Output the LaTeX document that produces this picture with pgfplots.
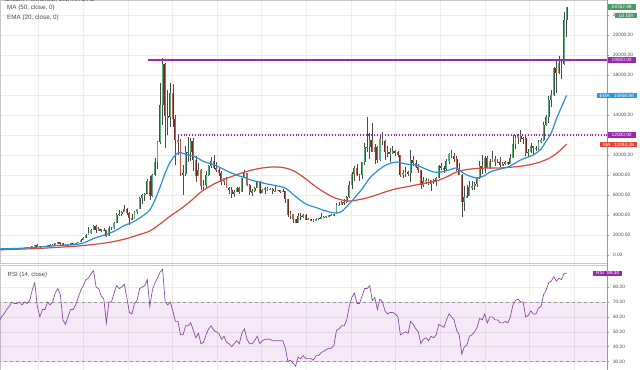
\documentclass[border=0pt]{standalone}
\usepackage{pgfplots}
\pgfplotsset{compat=1.18}
\usepackage{pgfplotstable}
\usepackage{fontspec}
\setmainfont{Liberation Sans}
\definecolor{upfill}{HTML}{5BAE7A}
\definecolor{upline}{HTML}{2F5E40}
\definecolor{dnfill}{HTML}{D0584A}
\definecolor{dnline}{HTML}{6E2A22}
\definecolor{wick}{HTML}{4A4A4A}
\definecolor{emac}{HTML}{2A8FD4}
\definecolor{mac}{HTML}{D9483B}
\definecolor{purp}{HTML}{9C27B0}
\definecolor{rsic}{HTML}{8E4AA6}
\definecolor{gridc}{HTML}{EDEDED}
\definecolor{axc}{HTML}{C8C8C8}
\definecolor{tickc}{HTML}{9A9A9A}
\definecolor{labc}{HTML}{4A4A4A}
\definecolor{boxg}{HTML}{4E9A6A}
\definecolor{boxb}{HTML}{2196F3}
\definecolor{boxr}{HTML}{E5453A}
\newcommand\lbl{\fontsize{4.8}{5.5}\selectfont}
\newcommand\leg{\fontsize{6.3}{7.5}\selectfont}

\pgfplotstableread{
x o h l c
-15 608 612 590 600
-14 600 612 595 610
-13 610 620 605 617
-12 617 645 615 640
-11 640 660 625 655
-10 655 720 650 700
-9 700 740 680 705
-8 705 720 690 705
-7 705 750 690 730
-6 730 745 720 735
-5 735 775 730 765
-4 765 780 755 775
-3 775 800 770 790
-2 790 935 790 920
-1 920 1000 880 1000
0 1000 1150 810 900
1 900 910 750 820
2 820 930 810 920
3 920 930 880 915
4 915 1030 910 1020
5 1020 1060 940 1000
6 1000 1060 990 1050
7 1050 1200 1050 1180
8 1180 1290 1150 1270
9 1270 1330 1000 1230
10 1230 1250 950 970
11 970 1060 890 960
12 960 1100 920 1080
13 1080 1200 1070 1180
14 1180 1210 1150 1170
15 1170 1250 1160 1240
16 1240 1350 1240 1350
17 1350 1640 1350 1550
18 1550 1760 1550 1720
19 1720 2100 1700 2050
20 2050 2760 2000 2200
21 2200 2560 2100 2550
22 2550 2980 2500 2950
23 2950 2990 2200 2500
24 2500 2760 2400 2600
25 2600 2600 2300 2500
26 2500 2670 2480 2520
27 2520 2550 1830 1950
28 1950 2920 1950 2750
29 2750 2790 2500 2730
30 2730 3300 2650 3230
31 3230 4200 3200 4050
32 4050 4480 3950 4100
33 4100 4400 3950 4350
34 4350 4980 4300 4600
35 4600 4700 3980 4200
36 4200 4350 2980 3700
37 3700 4100 3500 3600
38 3600 4380 3580 4350
39 4350 4620 4110 4600
40 4600 5850 4560 5700
41 5700 6150 5100 6000
42 6000 6200 5400 6150
43 6150 7600 6100 7400
44 7400 7900 5500 5950
45 5950 8100 5850 8000
46 8000 9700 7900 9300
47 9300 11400 8600 11300
48 11300 17200 11100 15000
49 15000 19700 13000 19100
50 19100 19200 10700 13900
51 13900 16500 12000 13800
52 13800 17200 12800 16200
53 16200 17100 12800 13600
54 13600 14000 9000 11500
55 11500 12100 10000 11400
56 11400 11600 7900 8200
57 8200 9000 6000 8100
58 8100 10900 7900 10300
59 10300 11800 9300 10350
60 10350 11700 9400 11400
61 11400 11700 8400 9500
62 9500 9900 7300 7900
63 7900 9200 7900 8500
64 8500 8600 6500 6900
65 6900 7500 6450 7000
66 7000 8400 6600 8000
67 8000 9000 7900 8900
68 8900 9800 8700 9400
69 9400 9990 8600 8700
70 8700 9350 8350 8500
71 8500 8850 7950 8200
72 8200 8400 7050 7350
73 7350 7750 7050 7700
74 7700 7780 6700 6750
75 6750 6800 6120 6500
76 6500 6850 5750 6150
77 6150 6550 5800 6350
78 6350 6850 6300 6750
79 6750 6800 6100 6350
80 6350 7700 6350 7700
81 7700 8500 7700 8200
82 8200 8250 6900 7000
83 7000 7150 6050 6300
84 6300 6600 5900 6400
85 6400 6800 6300 6700
86 6700 7400 6700 7300
87 7300 7400 6100 6200
88 6200 6600 6200 6500
89 6500 6800 6100 6700
90 6700 6800 6400 6600
91 6600 6700 6500 6620
92 6620 6700 6150 6400
93 6400 7000 6350 6450
94 6450 6550 6400 6480
95 6480 6500 6250 6400
96 6400 6600 6350 6420
97 6420 6450 5200 5600
98 5600 5600 3800 4000
99 4000 4400 3600 4100
100 4100 4100 3250 3600
101 3600 3600 3200 3200
102 3200 4200 3200 3950
103 3950 4250 3550 3850
104 3850 4100 3700 4000
105 4000 4100 3500 3550
106 3550 3750 3500 3560
107 3560 3650 3450 3540
108 3540 3560 3350 3450
109 3450 3700 3400 3650
110 3650 3700 3550 3660
111 3660 4200 3650 3800
112 3800 3900 3700 3850
113 3850 3950 3700 3900
114 3900 4000 3800 3990
115 3990 4100 3950 4000
116 4000 4150 3950 4100
117 4100 5200 4100 5000
118 5000 5350 4950 5050
119 5050 5400 5000 5300
120 5300 5650 5050 5280
121 5280 5900 5250 5800
122 5800 7400 5700 7000
123 7000 8300 6600 8150
124 8150 8950 7450 8750
125 8750 9100 7900 8000
126 8000 8100 7450 7980
127 7980 9300 7600 9300
128 9300 11200 9000 10850
129 10850 13800 10300 10800
130 10800 12200 9600 11500
131 11500 13200 10300 10300
132 10300 11100 9100 10800
133 10800 10900 9200 9500
134 9500 11900 9400 11600
135 11600 12300 11000 11400
136 11400 11500 9500 10300
137 10300 10900 9800 10100
138 10100 10700 9350 10300
139 10300 10900 10100 10400
140 10400 10500 9900 10300
141 10300 10400 9800 10000
142 10000 10000 7800 8000
143 8000 8500 7750 8200
144 8200 8800 7800 8300
145 8300 8400 7900 8200
146 8200 10500 7300 9550
147 9550 9950 8900 9200
148 9200 9500 8700 8800
149 8800 9100 8200 8500
150 8500 8500 6600 7050
151 7050 7800 6850 7400
152 7400 7700 7150 7500
153 7500 7600 7050 7100
154 7100 7550 6450 7500
155 7500 7650 7150 7400
156 7400 7800 6900 7750
157 7750 9000 7750 8900
158 8900 9200 8500 8700
159 8700 8900 8250 8600
160 8600 9600 8550 9400
161 9400 10200 9100 10150
162 10150 10500 9700 9900
163 9900 10250 9300 9650
164 9650 9950 8450 8500
165 8500 9200 8000 8000
166 8000 8100 3850 5350
167 5350 6900 4450 5800
168 5800 7000 5700 5900
169 5900 7450 5900 6800
170 6800 7450 6500 6900
171 6900 7300 6500 7100
172 7100 7800 6800 7700
173 7700 9450 7650 8900
174 8900 10000 8100 8700
175 8700 9950 8200 9700
176 9700 9900 8700 8700
177 8700 9600 8650 9450
178 9450 10400 9300 9650
179 9650 9950 8950 9350
180 9350 9600 9200 9300
181 9300 9800 8850 9000
182 9000 9300 8900 9100
183 9100 9450 9050 9300
184 9300 9350 9050 9150
185 9150 10100 9100 9700
186 9700 12000 9700 11100
187 11100 12000 10600 11700
188 11700 12100 11100 11900
189 11900 12500 11300 11650
190 11650 11800 11100 11700
191 11700 12100 9900 10250
192 10250 10600 9850 10300
193 10300 11200 10200 10900
194 10900 10900 10150 10700
195 10700 10950 10400 10650
196 10650 11500 10550 11300
197 11300 11700 11200 11500
198 11500 13300 11400 13000
199 13000 14000 12900 13800
200 13800 15900 13200 15500
201 15500 16500 14800 16050
202 16050 18800 15900 18700
203 18700 19400 16200 18200
204 18200 19900 18100 19200
205 19200 19400 17600 19150
206 19150 24300 19000 23500
207 23500 24800 21800 24767
}\candles

\pgfplotstableread{
x v
-15 520
-10 560
-5 600
0 650
5 720
10 800
15 880
20 1000
25 1150
30 1350
35 1650
40 2050
44 2400
48 3100
52 3900
56 4600
60 5400
64 6300
68 6950
72 7450
76 7850
80 8200
84 8500
88 8700
92 8800
96 8750
100 8450
104 7800
108 7000
112 6300
116 5750
120 5450
122 5400
124 5450
128 5650
132 5950
136 6300
140 6600
144 6800
148 7000
152 7200
156 7400
160 7800
164 8300
168 8550
172 8650
176 8700
180 8700
184 8750
188 8850
192 9000
196 9250
200 9650
203 10150
205 10600
207 11093
}\madata

\pgfplotstableread{
x v
-15 610
-10 640
-5 690
0 790
4 860
8 950
12 990
16 1080
19 1300
22 1650
25 1900
28 2150
31 2500
34 2950
37 3250
40 3700
42 4050
44 4500
46 5500
48 6800
50 8200
52 9300
54 10000
55 10200
56 10250
57 10150
59 10000
61 9900
63 9650
65 9350
67 9200
69 9050
71 8800
73 8550
75 8300
77 8100
79 7900
81 7750
83 7550
85 7400
87 7300
89 7150
91 7050
93 6950
95 6850
97 6700
99 6300
101 5850
103 5450
105 5100
107 4900
109 4750
111 4550
113 4400
115 4250
117 4200
119 4350
121 4850
123 5400
125 6000
127 6600
130 7700
133 8400
136 8950
139 9250
141 9300
144 9100
148 9000
151 8700
155 8300
158 8300
161 8500
164 8700
166 8300
168 8000
172 7700
175 7950
177 8300
181 8600
184 8800
187 9200
189 9500
192 9800
194 10000
197 10600
199 11400
201 12200
203 13600
205 14800
207 15959
}\emadata

\pgfplotstableread{
x r
-15 57
-14 60
-13 62
-12 65
-11 67
-10 70
-9 69
-8 69
-7 70
-6 68
-5 70
-4 69
-3 71
-2 78
-1 83
0 67
1 60
2 65
3 65
4 70
5 68
6 70
7 76
8 79
9 75
10 58
11 55
12 60
13 65
14 65
15 68
16 73
17 78
18 81
19 85
20 86
21 89
22 91
23 80
24 79
25 74
26 72
27 56
28 70
29 70
30 76
31 81
32 79
33 80
34 82
35 73
36 63
37 62
38 69
39 71
40 79
41 80
42 81
43 85
44 67
45 78
46 83
47 86
48 90
49 92
50 70
51 68
52 70
53 64
54 57
55 57
56 48
57 48
58 54
59 54
60 56
61 51
62 46
63 49
64 42
65 43
66 48
67 52
68 54
69 51
70 50
71 49
72 45
73 47
74 43
75 42
76 40
77 42
78 44
79 42
80 49
81 52
82 45
83 42
84 42
85 44
86 47
87 42
88 44
89 45
90 45
91 45
92 44
93 44
94 44
95 44
96 44
97 39
98 30
99 31
100 29
101 27
102 33
103 32
104 34
105 32
106 32
107 32
108 31
109 34
110 34
111 36
112 37
113 38
114 39
115 39
116 41
117 51
118 52
119 54
120 54
121 58
122 67
123 73
124 76
125 69
126 69
127 74
128 79
129 79
130 81
131 71
132 73
133 65
134 72
135 70
136 64
137 62
138 63
139 63
140 62
141 60
142 48
143 49
144 50
145 49
146 57
147 55
148 52
149 50
150 42
151 45
152 46
153 44
154 47
155 46
156 48
157 55
158 54
159 53
160 58
161 62
162 60
163 58
164 51
165 48
166 35
167 40
168 41
169 47
170 48
171 50
172 53
173 59
174 58
175 62
176 56
177 60
178 60
179 58
180 58
181 56
182 56
183 57
184 56
185 60
186 68
187 71
188 72
189 70
190 70
191 60
192 61
193 64
194 62
195 62
196 66
197 67
198 75
199 78
200 83
201 84
202 87
203 84
204 86
205 85
206 89
207 89.34
}\rsidata

\pgfplotsset{
  chartaxis/.style={
    scale only axis, width=607bp, anchor=north west,
    xmin=-14.6, xmax=222.8,
    xtick={0.2,17.8,35.4,52.6,70.2,87.4,105,122.6,139.9,157.5,175.1,192.3,209.9},
    xticklabels={}, xtick style={draw=none},
    ytick pos=right, yticklabel pos=right, ytick align=outside,
    major tick length=2bp, tick style={draw=tickc, line width=0.4bp},
    grid=major, major grid style={draw=gridc, line width=0.5bp},
    axis line style={draw=axc, line width=0.5bp},
    scaled y ticks=false,
    yticklabel style={font=\lbl, text=labc, anchor=west, xshift=0.5bp,
      /pgf/number format/.cd, fixed, fixed zerofill, precision=2, 1000 sep={}, assume math mode=true},
  },
  candle/.style 2 args={draw=none, mark=none, forget plot,
    error bars/y dir=both, error bars/y explicit, error bars/error mark=none,
    error bars/error bar style={draw=#1, line width=#2, solid}},
}

\begin{document}
\begin{tikzpicture}
\useasboundingbox (0,0) rectangle (640bp,-370bp);
% ---------- price panel ----------
\begin{axis}[chartaxis, at={(0,0)}, height=263bp,
  ymin=-800, ymax=25500, ytick={0,2000,...,24000}]
  % wicks
  \addplot [candle={wick}{0.5bp}]
    table [x=x, y expr={(\thisrow{h}+\thisrow{l})/2}, y error expr={(\thisrow{h}-\thisrow{l})/2}] {\candles};
  % up bodies
  \addplot [candle={upline}{1.9bp}, restrict expr to domain={\thisrow{c}-\thisrow{o}}{0:100000}]
    table [x=x, y expr={(\thisrow{o}+\thisrow{c})/2}, y error expr={abs(\thisrow{c}-\thisrow{o})/2}] {\candles};
  \addplot [candle={upfill}{1.1bp}, restrict expr to domain={\thisrow{c}-\thisrow{o}}{0:100000}]
    table [x=x, y expr={(\thisrow{o}+\thisrow{c})/2}, y error expr={abs(\thisrow{c}-\thisrow{o})/2}] {\candles};
  % down bodies
  \addplot [candle={dnline}{1.9bp}, restrict expr to domain={\thisrow{o}-\thisrow{c}}{0.001:100000}]
    table [x=x, y expr={(\thisrow{o}+\thisrow{c})/2}, y error expr={abs(\thisrow{c}-\thisrow{o})/2}] {\candles};
  \addplot [candle={dnfill}{1.1bp}, restrict expr to domain={\thisrow{o}-\thisrow{c}}{0.001:100000}]
    table [x=x, y expr={(\thisrow{o}+\thisrow{c})/2}, y error expr={abs(\thisrow{c}-\thisrow{o})/2}] {\candles};
  % moving averages
  \addplot [mac, line width=1.2bp, smooth, no markers] table [x=x, y=v] {\madata};
  \addplot [emac, line width=1.2bp, smooth, no markers] table [x=x, y=v] {\emadata};
  % horizontal levels
  \addplot [purp, line width=1.5bp, no markers] coordinates {(43.3,19500) (222.8,19500)};
  \addplot [purp, line width=1.1bp, no markers, dash pattern=on 1.1bp off 1.7bp] coordinates {(55,12000) (222.8,12000)};
\end{axis}
% ---------- RSI panel ----------
\begin{axis}[chartaxis, at={(0,-265bp)}, height=105bp,
  ymin=24.36, ymax=94.83, ytick={30,40,...,80}]
  \addplot [draw=none, fill=purp, fill opacity=0.1, forget plot] coordinates {(-20,30) (230,30) (230,70) (-20,70)} -- cycle;
  \addplot [tickc, line width=0.4bp, dashed, no markers, forget plot] coordinates {(-20,70) (230,70)};
  \addplot [tickc, line width=0.4bp, dashed, no markers, forget plot] coordinates {(-20,30) (230,30)};
  \addplot [rsic, line width=0.7bp, no markers] table [x=x, y=r] {\rsidata};
\end{axis}
% right scale separators
\draw[draw=tickc, line width=0.5bp] (607bp,0) -- (607bp,-370bp);
% ---------- legends ----------
\node[anchor=base west, font=\leg, text=labc, inner sep=0] at (5bp,-1.6bp) {Bitcoin / TetherUS, 1W, HITBTC};
\node[anchor=base west, font=\leg, text=labc, inner sep=0] at (7bp,-9.8bp) {MA (50, close, 0)};
\node[anchor=base west, font=\leg, text=labc, inner sep=0] at (7bp,-19.6bp) {EMA (20, close, 0)};
\node[anchor=base west, font=\fontsize{6}{7}\selectfont, text=labc, inner sep=0] at (7.5bp,-276bp) {RSI (14, close)};
% ---------- price scale labels ----------
\node[anchor=west, fill=boxg, text=white, font=\lbl, inner xsep=4bp, inner ysep=0.9bp] at (607.5bp,-7bp) {24767.49};
\node[anchor=east, fill=boxg, text=white, font=\lbl, inner xsep=3.5bp, inner ysep=0.9bp] at (637bp,-15.6bp) {1d 15h};
\node[anchor=west, fill=purp, text=white, font=\lbl, inner xsep=4bp, inner ysep=0.9bp] at (607.5bp,-60bp) {19500.00};
\node[anchor=east, fill=boxb, text=white, font=\lbl, inner xsep=3bp, inner ysep=0.9bp] at (637bp,-95.7bp) {EMA\hspace{4bp}15958.88};
\node[anchor=west, fill=purp, text=white, font=\lbl, inner xsep=4bp, inner ysep=0.9bp] at (607.5bp,-135bp) {12000.00};
\node[anchor=east, fill=boxr, text=white, font=\lbl, inner xsep=3bp, inner ysep=0.9bp] at (637bp,-144.4bp) {MA\hspace{4bp}11093.26};
\node[anchor=west, fill=purp, text=white, font=\lbl, inner xsep=3bp, inner ysep=0.9bp] at (593bp,-273.2bp) {RSI\hspace{3bp}89.34};
\end{tikzpicture}
\end{document}
